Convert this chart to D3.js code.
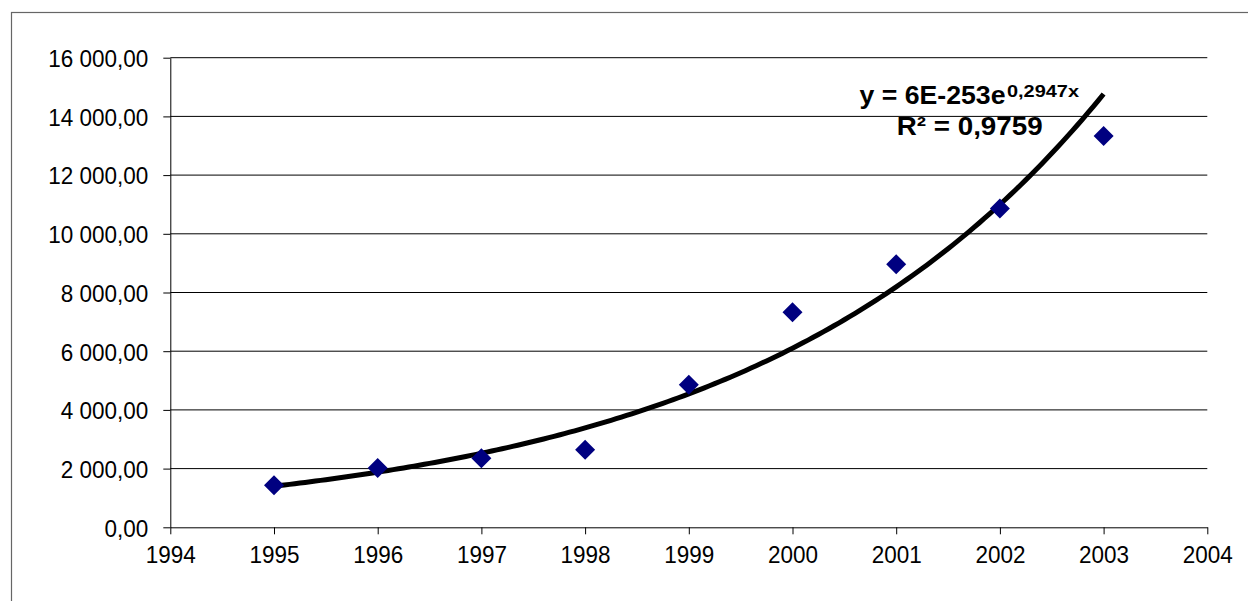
<!DOCTYPE html>
<html>
<head>
<meta charset="utf-8">
<script src="https://cdn.jsdelivr.net/npm/d3@7"></script>
<style>
  html, body { margin: 0; padding: 0; background: #fff; }
  svg { display: block; }
  text { font-family: "Liberation Sans", Arial, sans-serif; }
</style>
</head>
<body>
<svg id="chart" width="1248" height="601"></svg>
<script>
// ---- data ----
const years = [1995, 1996, 1997, 1998, 1999, 2000, 2001, 2002, 2003];
const values = [1431, 2020, 2355, 2638, 4857, 7324, 8963, 10864, 13331];
const xTicks = [1994, 1995, 1996, 1997, 1998, 1999, 2000, 2001, 2002, 2003, 2004];
const yTicks = [0, 2000, 4000, 6000, 8000, 10000, 12000, 14000, 16000];
const equationMain = "y = 6E-253e";
const equationSup = "0,2947x";
const rSquaredText = "R² = 0,9759";

// ---- layout ----
const W = 1248, H = 601;
const plot = { left: 170.3, right: 1207.3, top: 57.7, bottom: 527.3 };
const tickFont = 22.5, tickStretch = 1.1;

const svg = d3.select("#chart");

// outer border
svg.append("rect")
  .attr("x", 11.5).attr("y", 12.5)
  .attr("width", W + 20).attr("height", H + 20)
  .attr("fill", "none").attr("stroke", "#666").attr("stroke-width", 1.2);

const x = d3.scaleLinear().domain([1994, 2004]).range([plot.left, plot.right]);
const y = d3.scaleLinear().domain([0, 16000]).range([plot.bottom, plot.top]);

const locale = d3.formatLocale({ decimal: ",", thousands: "\u00a0", grouping: [3], currency: ["", ""] });
const fmt = locale.format(",.2f");

// gridlines
svg.append("g")
  .selectAll("line")
  .data(yTicks.filter(d => d > 0))
  .join("line")
  .attr("x1", plot.left).attr("x2", plot.right)
  .attr("y1", d => y(d)).attr("y2", d => y(d))
  .attr("stroke", "#000").attr("stroke-width", 1);

// y axis
const yAxis = svg.append("g")
  .attr("transform", `translate(${plot.left},0)`)
  .call(d3.axisLeft(y).tickValues(yTicks).tickFormat(fmt).tickSize(7).tickSizeOuter(0).tickPadding(15));
yAxis.select(".domain").attr("stroke", "#000").attr("stroke-width", 1);
yAxis.selectAll(".tick line").attr("stroke", "#000");
yAxis.selectAll("text")
  .attr("font-size", tickFont).attr("fill", "#000")
  .attr("font-family", "'Liberation Sans', Arial, sans-serif")
  .attr("x", -22).attr("y", 0).attr("dy", 0.358 * tickFont)
  .attr("transform", `scale(1,${tickStretch})`);

// x axis
const xAxis = svg.append("g")
  .attr("transform", `translate(0,${plot.bottom})`)
  .call(d3.axisBottom(x).tickValues(xTicks).tickFormat(d3.format("d")).tickSize(7).tickSizeOuter(0).tickPadding(10));
xAxis.select(".domain").attr("stroke", "#000").attr("stroke-width", 1);
xAxis.selectAll(".tick line").attr("stroke", "#000");
xAxis.selectAll("text")
  .attr("font-size", tickFont).attr("fill", "#000")
  .attr("font-family", "'Liberation Sans', Arial, sans-serif")
  .attr("y", 0).attr("dy", 0)
  .attr("transform", `translate(0,35.4) scale(1,${tickStretch})`);

// exponential trendline (least squares on ln(value), like the spreadsheet fit)
const n = years.length;
const lnV = values.map(v => Math.log(v));
const mx = d3.mean(years), ml = d3.mean(lnV);
let sxy = 0, sxx = 0;
for (let i = 0; i < n; i++) { sxy += (years[i] - mx) * (lnV[i] - ml); sxx += (years[i] - mx) ** 2; }
const b = sxy / sxx;
const trend = t => Math.exp(ml + b * (t - mx));
const trendX = d3.range(years[0], years[n - 1] + 0.0001, 0.05);

svg.append("path")
  .datum(trendX)
  .attr("fill", "none")
  .attr("stroke", "#000")
  .attr("stroke-width", 5)
  .attr("stroke-linecap", "butt")
  .attr("d", d3.line().x(t => x(t)).y(t => y(trend(t))));

// markers
svg.append("g")
  .selectAll("path")
  .data(years.map((yr, i) => ({ yr, v: values[i] })))
  .join("path")
  .attr("transform", d => `translate(${x(d.yr)},${y(d.v)})`)
  .attr("d", "M0,-10L10,0L0,10L-10,0Z")
  .attr("fill", "#000080");

// equation label
svg.append("text")
  .attr("x", 859.5).attr("y", 104.3)
  .attr("font-weight", "bold").attr("font-size", 26)
  .attr("textLength", 146).attr("lengthAdjust", "spacingAndGlyphs")
  .attr("fill", "#000")
  .text(equationMain);
svg.append("text")
  .attr("x", 1007).attr("y", 96.5)
  .attr("font-weight", "bold").attr("font-size", 16)
  .attr("textLength", 72).attr("lengthAdjust", "spacingAndGlyphs")
  .attr("fill", "#000")
  .text(equationSup);

svg.append("text")
  .attr("x", 896.7).attr("y", 134.5)
  .attr("font-weight", "bold").attr("font-size", 25)
  .attr("textLength", 146).attr("lengthAdjust", "spacingAndGlyphs")
  .attr("fill", "#000")
  .text(rSquaredText);
</script>
</body>
</html>
